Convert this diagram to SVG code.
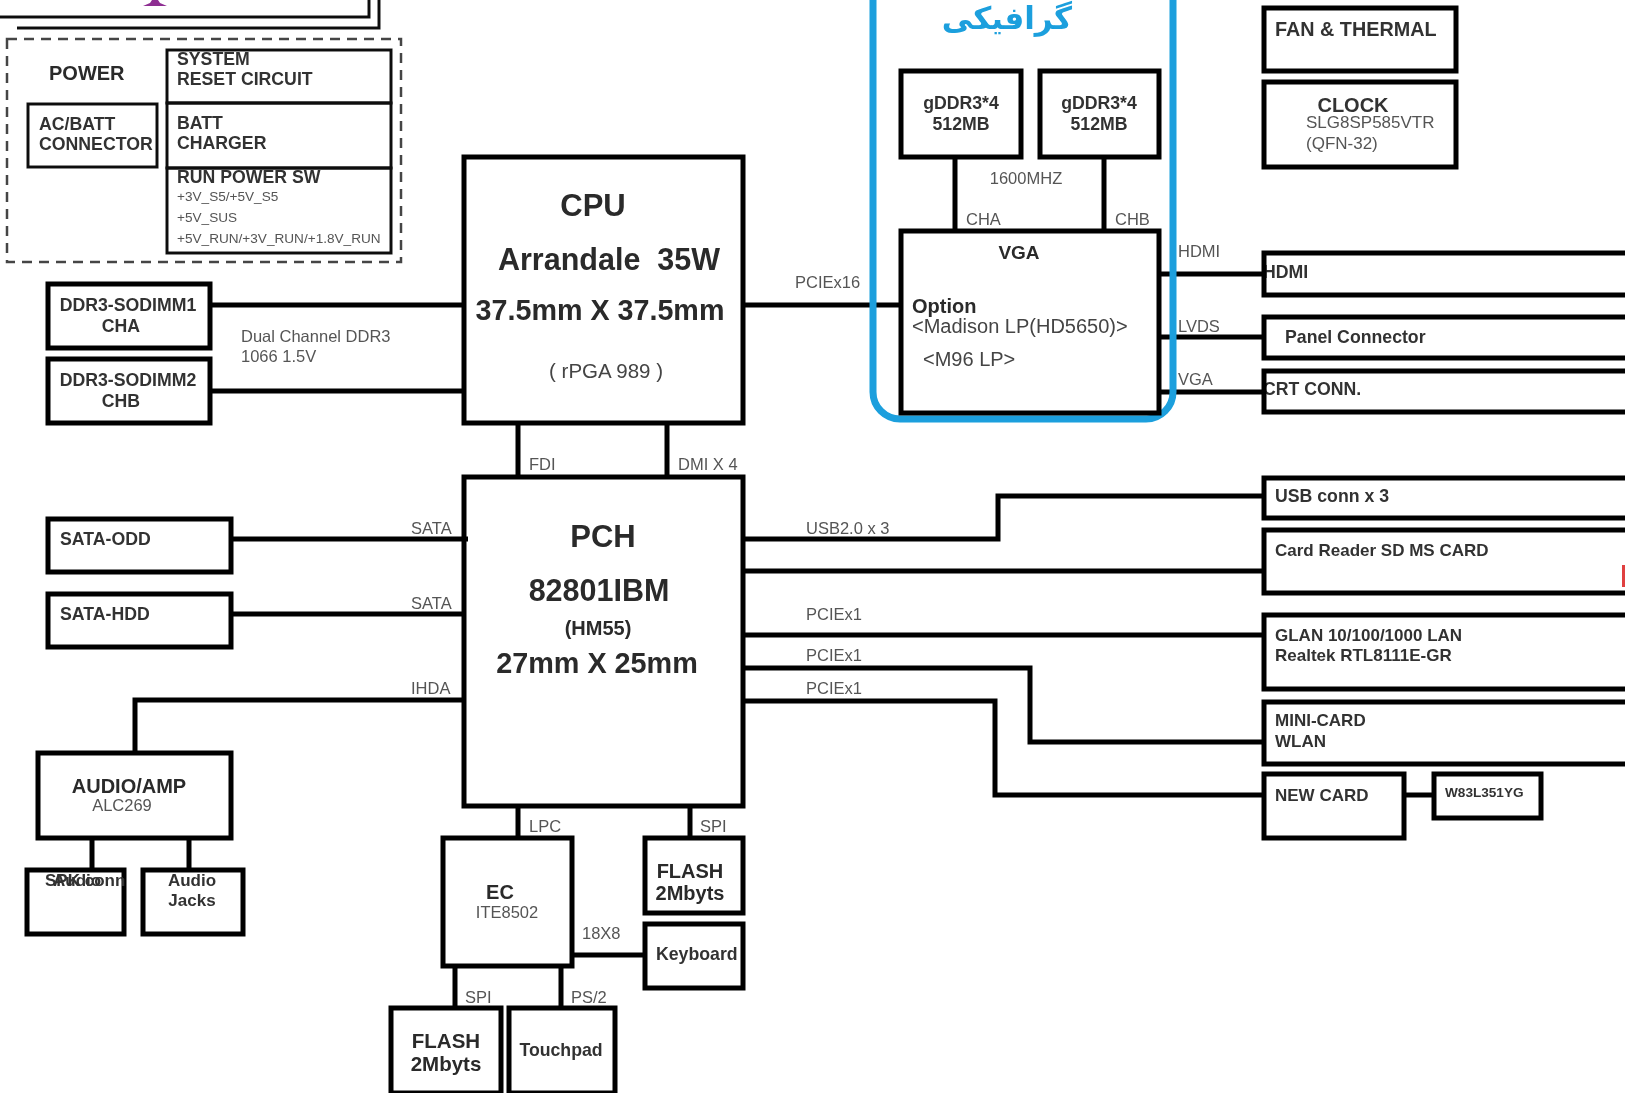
<svg xmlns="http://www.w3.org/2000/svg" width="1625" height="1093" viewBox="0 0 1625 1093">
<style>
text{font-family:"Liberation Sans",Arial,sans-serif;fill:#2a2a2a}
.b{font-weight:bold}
.s{font-size:16.5px;fill:#555}
.m{font-size:17.7px;font-weight:bold;fill:#333}
.r{font-size:17px;font-weight:bold;fill:#333}
.tiny{font-size:13.6px;fill:#555}
.v{font-size:20px;fill:#444}
.c{text-anchor:middle}
.box{fill:#fff;fill-opacity:0;stroke:#000;stroke-width:5}
.thin{fill:none;stroke:#111;stroke-width:3}
.line{fill:none;stroke:#000;stroke-width:5}
</style>
<defs><filter id="soft" x="0" y="0" width="100%" height="100%"><feGaussianBlur stdDeviation="0.45"/></filter></defs>
<rect width="1625" height="1093" fill="#fff"/>
<g filter="url(#soft)">
<g id="title-frame">
<path class="thin" d="M0 17H369V0M17 28H379V0"/>
<path d="M143 6L150 3 152 0H158L160 3 167 6Z" fill="#8e2d92"/>
</g>
<g id="connectors">
<path class="line" d="M210 305H464M210 391H464M743 305H901M518 423V477M667 423V477M231 539H468M231 614H464M135 753V700H464M92 838V870M189 838V870"/>
<path class="line" d="M518 806V838M690 806V838M572 955H645M455 966V1007M561 966V1007"/>
<path class="line" d="M743 539H998V496H1262M743 571H1262M743 635H1262M743 668H1030V742H1262M743 701H995V795H1262M1404 795H1433"/>
<path class="line" d="M955 157V231M1104 157V231M1159 274H1262M1159 337H1262M1159 392H1262"/>
</g>
<g id="gfx-frame">
<path d="M873 -10V392A27 27 0 0 0 900 419H1146A27 27 0 0 0 1173 392V-10" fill="none" stroke="#1a9fdd" stroke-width="7"/>
<text x="1007" y="29" class="c" style="font-family:'DejaVu Sans',sans-serif;font-size:31px;font-weight:bold;fill:#1a9fdd">گرافیکی</text>
</g>
<g id="power-group">
<rect x="7" y="39" width="394" height="223" fill="none" stroke="#444" stroke-width="2.5" stroke-dasharray="10 7"/>
<text x="49" y="80" class="b" style="font-size:20px">POWER</text>
</g>
<g id="ac-batt"><rect class="thin" x="28" y="104" width="129" height="63"/><text x="39" y="130" class="m">AC/BATT</text><text x="39" y="150" class="m">CONNECTOR</text></g>
<g id="system-reset"><text x="177" y="65" class="m">SYSTEM</text><text x="177" y="85" class="m">RESET CIRCUIT</text><rect class="thin" x="167" y="50" width="224" height="53"/></g>
<g id="batt-charger"><rect class="thin" x="167" y="103" width="224" height="65"/><text x="177" y="129" class="m">BATT</text><text x="177" y="149" class="m">CHARGER</text></g>
<g id="run-power"><text x="177" y="183" class="m">RUN POWER SW</text><text x="177" y="201" class="tiny">+3V_S5/+5V_S5</text><text x="177" y="222" class="tiny">+5V_SUS</text><text x="177" y="243" class="tiny">+5V_RUN/+3V_RUN/+1.8V_RUN</text><rect class="thin" x="167" y="168" width="224" height="85"/></g>
<g id="gddr-a"><rect class="box" x="901" y="71" width="120" height="86"/><text x="961" y="109" class="m c">gDDR3*4</text><text x="961" y="130" class="m c">512MB</text></g>
<g id="gddr-b"><rect class="box" x="1040" y="71" width="119" height="86"/><text x="1099" y="109" class="m c">gDDR3*4</text><text x="1099" y="130" class="m c">512MB</text></g>
<g id="vga"><rect class="box" x="901" y="231" width="258" height="182"/>
<text x="1019" y="259" class="b c" style="font-size:19px">VGA</text>
<text x="912" y="313" class="b" style="font-size:20px">Option</text>
<text x="912" y="333" class="v">&lt;Madison LP(HD5650)&gt;</text>
<text x="923" y="366" class="v">&lt;M96 LP&gt;</text></g>
<g id="labels-gfx">
<text x="1026" y="184" class="s c">1600MHZ</text>
<text x="966" y="225" class="s">CHA</text><text x="1115" y="225" class="s">CHB</text>
<text x="1178" y="257" class="s">HDMI</text><text x="1178" y="332" class="s">LVDS</text><text x="1178" y="385" class="s">VGA</text>
<text x="795" y="288" class="s">PCIEx16</text>
<text x="241" y="342" class="s">Dual Channel DDR3</text><text x="241" y="362" class="s">1066  1.5V</text>
<text x="529" y="470" class="s">FDI</text><text x="678" y="470" class="s">DMI X 4</text>
<text x="411" y="534" class="s">SATA</text><text x="411" y="609" class="s">SATA</text><text x="411" y="694" class="s">IHDA</text>
<text x="806" y="534" class="s">USB2.0 x 3</text><text x="806" y="620" class="s">PCIEx1</text><text x="806" y="661" class="s">PCIEx1</text><text x="806" y="694" class="s">PCIEx1</text>
<text x="529" y="832" class="s">LPC</text><text x="700" y="832" class="s">SPI</text><text x="582" y="939" class="s">18X8</text><text x="465" y="1003" class="s">SPI</text><text x="571" y="1003" class="s">PS/2</text>
</g>
<g id="fan"><rect class="box" x="1264" y="8" width="192" height="63"/><text x="1275" y="36" class="b" style="font-size:19.8px;fill:#333">FAN &amp; THERMAL</text></g>
<g id="clock"><rect class="box" x="1264" y="82" width="192" height="85"/><text x="1353" y="112" class="b c" style="font-size:20px;fill:#333">CLOCK</text><text x="1306" y="128" style="font-size:17px;fill:#555">SLG8SP585VTR</text><text x="1306" y="149" style="font-size:17px;fill:#555">(QFN-32)</text></g>
<g id="hdmi"><text x="1263" y="278" class="m">HDMI</text><rect class="box" x="1264" y="253" width="365" height="42"/></g>
<g id="panel"><rect class="box" x="1264" y="317" width="365" height="41"/><text x="1285" y="343" class="m">Panel Connector</text></g>
<g id="crt"><text x="1263" y="395" class="m">CRT CONN.</text><rect class="box" x="1264" y="371" width="365" height="41"/></g>
<g id="cpu"><rect class="box" x="464" y="157" width="279" height="266"/>
<text x="593" y="216" class="b c" style="font-size:31px">CPU</text>
<text x="609" y="270" class="b c" style="font-size:30.5px">Arrandale&#160;&#160;35W</text>
<text x="600" y="320" class="b c" style="font-size:28.7px">37.5mm X 37.5mm</text>
<text x="606" y="378" class="c" style="font-size:20.5px;fill:#444">( rPGA 989 )</text></g>
<g id="pch"><rect class="box" x="464" y="477" width="279" height="329"/>
<text x="603" y="547" class="b c" style="font-size:31px">PCH</text>
<text x="599" y="601" class="b c" style="font-size:30.5px">82801IBM</text>
<text x="598" y="635" class="b c" style="font-size:20px">(HM55)</text>
<text x="597" y="673" class="b c" style="font-size:28.8px">27mm X 25mm</text></g>
<g id="sodimm1"><rect class="box" x="48" y="284" width="162" height="64"/><text x="128" y="311" class="m c">DDR3-SODIMM1</text><text x="121" y="332" class="m c">CHA</text></g>
<g id="sodimm2"><rect class="box" x="48" y="359" width="162" height="64"/><text x="128" y="386" class="m c">DDR3-SODIMM2</text><text x="121" y="407" class="m c">CHB</text></g>
<g id="sata-odd"><rect class="box" x="48" y="519" width="183" height="53"/><text x="60" y="545" class="m">SATA-ODD</text></g>
<g id="sata-hdd"><rect class="box" x="48" y="594" width="183" height="53"/><text x="60" y="620" class="m">SATA-HDD</text></g>
<g id="audio"><rect class="box" x="38" y="753" width="193" height="85"/><text x="129" y="793" class="b c" style="font-size:20px">AUDIO/AMP</text><text x="122" y="811" class="s c">ALC269</text></g>
<g id="spk"><rect class="box" x="27" y="870" width="97" height="64"/><text x="45" y="886" class="r">SPK conn</text><text x="53" y="886" class="r">Audio</text></g>
<g id="jacks"><rect class="box" x="143" y="870" width="100" height="64"/><text x="192" y="886" class="r c">Audio</text><text x="192" y="906" class="r c">Jacks</text></g>
<g id="ec"><rect class="box" x="443" y="838" width="129" height="128"/><text x="500" y="899" class="b c" style="font-size:20px">EC</text><text x="507" y="918" class="s c">ITE8502</text></g>
<g id="flash-a"><rect class="box" x="645" y="838" width="98" height="75"/><text x="690" y="878" class="b c" style="font-size:20px">FLASH</text><text x="690" y="900" class="b c" style="font-size:20px">2Mbyts</text></g>
<g id="keyboard"><rect class="box" x="645" y="924" width="98" height="64"/><text x="656" y="960" class="m">Keyboard</text></g>
<g id="flash-b"><rect class="box" x="391" y="1008" width="110" height="85"/><text x="446" y="1048" class="b c" style="font-size:20.5px">FLASH</text><text x="446" y="1071" class="b c" style="font-size:20.5px">2Mbyts</text></g>
<g id="touchpad"><rect class="box" x="509" y="1008" width="106" height="85"/><text x="561" y="1056" class="m c">Touchpad</text></g>
<g id="usb"><rect class="box" x="1264" y="478" width="365" height="40"/><text x="1275" y="502" class="m">USB conn x 3</text></g>
<g id="card"><rect class="box" x="1264" y="530" width="365" height="63"/><text x="1275" y="556" class="r">Card Reader SD MS CARD</text><rect x="1622" y="565" width="3" height="22" fill="#e04040"/></g>
<g id="glan"><rect class="box" x="1264" y="615" width="365" height="74"/><text x="1275" y="641" class="r">GLAN 10/100/1000 LAN</text><text x="1275" y="661" class="r">Realtek RTL8111E-GR</text></g>
<g id="mini"><rect class="box" x="1264" y="702" width="365" height="62"/><text x="1275" y="726" class="r">MINI-CARD</text><text x="1275" y="747" class="r">WLAN</text></g>
<g id="newcard"><rect class="box" x="1264" y="774" width="140" height="64"/><text x="1275" y="801" class="r">NEW CARD</text></g>
<g id="w83"><rect class="box" x="1434" y="774" width="107" height="44"/><text x="1445" y="797" class="b" style="font-size:13.6px;fill:#333">W83L351YG</text></g>
</g>
</svg>
